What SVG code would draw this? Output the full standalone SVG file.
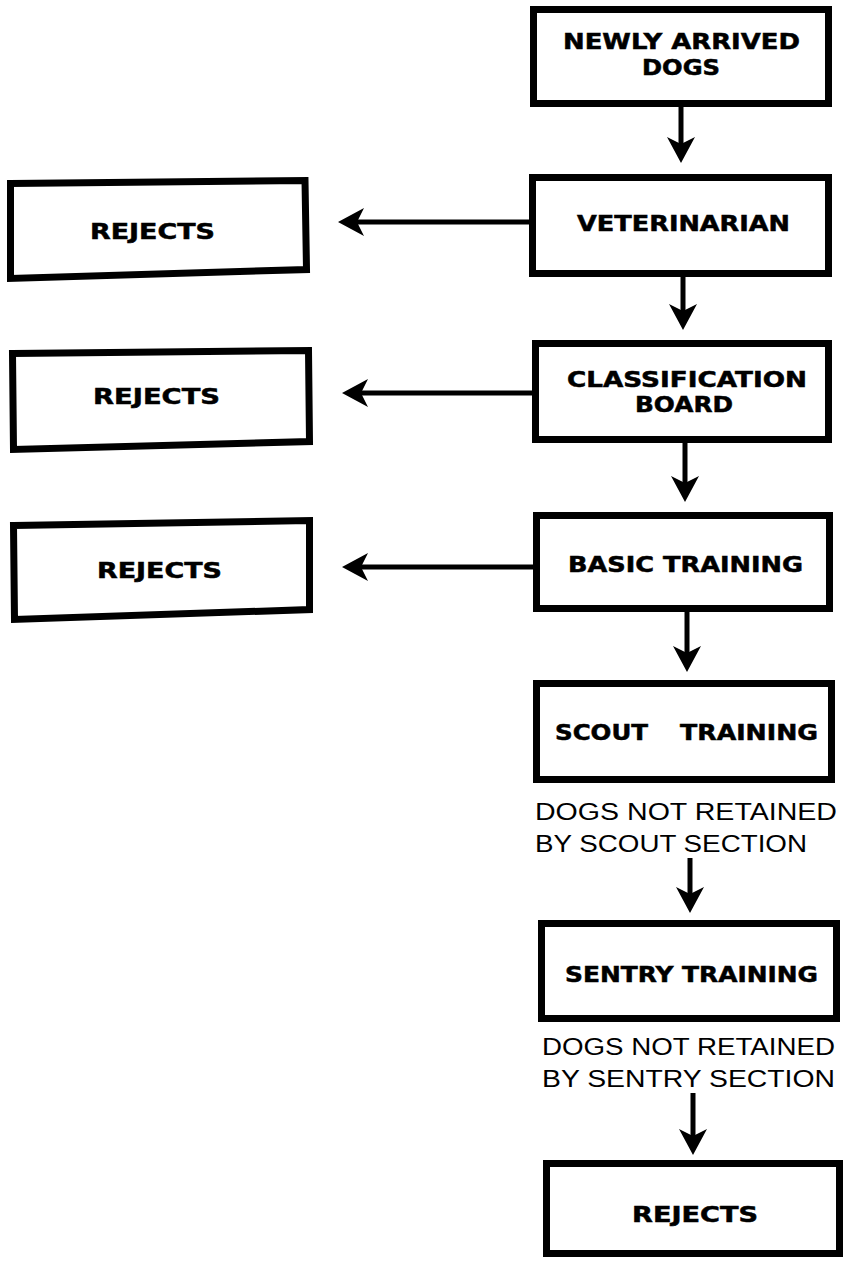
<svg xmlns="http://www.w3.org/2000/svg" width="849" height="1262" viewBox="0 0 849 1262">
<style>
.box{fill:#fff;stroke:#000;stroke-width:7;stroke-linejoin:miter}
.b{font-family:"DejaVu Sans","Liberation Sans",Arial,sans-serif;font-weight:bold;font-size:21px;fill:#000;stroke:#000;stroke-width:0.5}
.r{font-family:"Liberation Sans",Arial,sans-serif;font-size:23px;fill:#000}
.con{stroke:#000;stroke-width:5;fill:none;marker-end:url(#ah)}
</style>
<defs>
<marker id="ah" markerUnits="userSpaceOnUse" viewBox="0 0 26 28" refX="7" refY="14" markerWidth="26" markerHeight="28" orient="auto">
<path d="M0,0 L26,14 L0,28 L7,14 Z" fill="#000"/>
</marker>
</defs>
<rect width="849" height="1262" fill="#fff"/>
<g id="connectors">
<line class="con" x1="681" y1="107" x2="681" y2="144"/>
<line class="con" x1="683" y1="277" x2="683" y2="311"/>
<line class="con" x1="685" y1="443" x2="685" y2="483"/>
<line class="con" x1="687" y1="612" x2="687" y2="653"/>
<line class="con" x1="690" y1="858" x2="690" y2="894"/>
<line class="con" x1="693" y1="1093" x2="693" y2="1136"/>
<line class="con" x1="530" y1="222" x2="357" y2="222"/>
<line class="con" x1="532" y1="393" x2="361" y2="393"/>
<line class="con" x1="533" y1="567" x2="361" y2="567"/>
</g>
<g id="n-newly">
<rect class="box" x="533.5" y="9.5" width="295" height="94"/>
<text class="b" x="563" y="49" textLength="237" lengthAdjust="spacingAndGlyphs">NEWLY ARRIVED</text>
<text class="b" x="642" y="75" textLength="78" lengthAdjust="spacingAndGlyphs">DOGS</text>
</g>
<g id="n-vet">
<rect class="box" x="532.5" y="177.5" width="296" height="96"/>
<text class="b" x="577" y="231" textLength="213" lengthAdjust="spacingAndGlyphs">VETERINARIAN</text>
</g>
<g id="n-rej1">
<path class="box" d="M10.5,183.5 L305,180.5 L306.5,269.5 L10.5,278.5 Z"/>
<text class="b" x="90" y="239" textLength="125" lengthAdjust="spacingAndGlyphs">REJECTS</text>
</g>
<g id="n-class">
<rect class="box" x="535.5" y="343.5" width="293" height="96"/>
<text class="b" x="567" y="387" textLength="240" lengthAdjust="spacingAndGlyphs">CLASSIFICATION</text>
<text class="b" x="635" y="412" textLength="98" lengthAdjust="spacingAndGlyphs">BOARD</text>
</g>
<g id="n-rej2">
<path class="box" d="M12.5,353.5 L308.5,350.5 L309.5,441.5 L13.5,449.5 Z"/>
<text class="b" x="93" y="404" textLength="127" lengthAdjust="spacingAndGlyphs">REJECTS</text>
</g>
<g id="n-basic">
<rect class="box" x="536.5" y="515.5" width="293" height="93"/>
<text class="b" x="568" y="572" textLength="235" lengthAdjust="spacingAndGlyphs">BASIC TRAINING</text>
</g>
<g id="n-rej3">
<path class="box" d="M13.5,525.5 L309.5,520.5 L309.5,609.5 L14.5,619.5 Z"/>
<text class="b" x="97" y="578" textLength="125" lengthAdjust="spacingAndGlyphs">REJECTS</text>
</g>
<g id="n-scout">
<rect class="box" x="536.5" y="683.5" width="295" height="96"/>
<text class="b" x="555" y="740" textLength="93" lengthAdjust="spacingAndGlyphs">SCOUT</text>
<text class="b" x="680" y="740" textLength="138" lengthAdjust="spacingAndGlyphs">TRAINING</text>
</g>
<g id="l-scout">
<text class="r" x="535" y="820" textLength="302" lengthAdjust="spacingAndGlyphs">DOGS NOT RETAINED</text>
<text class="r" x="535" y="852" textLength="272" lengthAdjust="spacingAndGlyphs">BY SCOUT SECTION</text>
</g>
<g id="n-sentry">
<rect class="box" x="541.5" y="923.5" width="295" height="95"/>
<text class="b" x="565" y="982" textLength="253" lengthAdjust="spacingAndGlyphs">SENTRY TRAINING</text>
</g>
<g id="l-sentry">
<text class="r" x="542" y="1055" textLength="293" lengthAdjust="spacingAndGlyphs">DOGS NOT RETAINED</text>
<text class="r" x="542" y="1087" textLength="293" lengthAdjust="spacingAndGlyphs">BY SENTRY SECTION</text>
</g>
<g id="n-rej4">
<rect class="box" x="546.5" y="1163.5" width="293" height="90"/>
<text class="b" x="632" y="1222" textLength="126" lengthAdjust="spacingAndGlyphs">REJECTS</text>
</g>
</svg>
